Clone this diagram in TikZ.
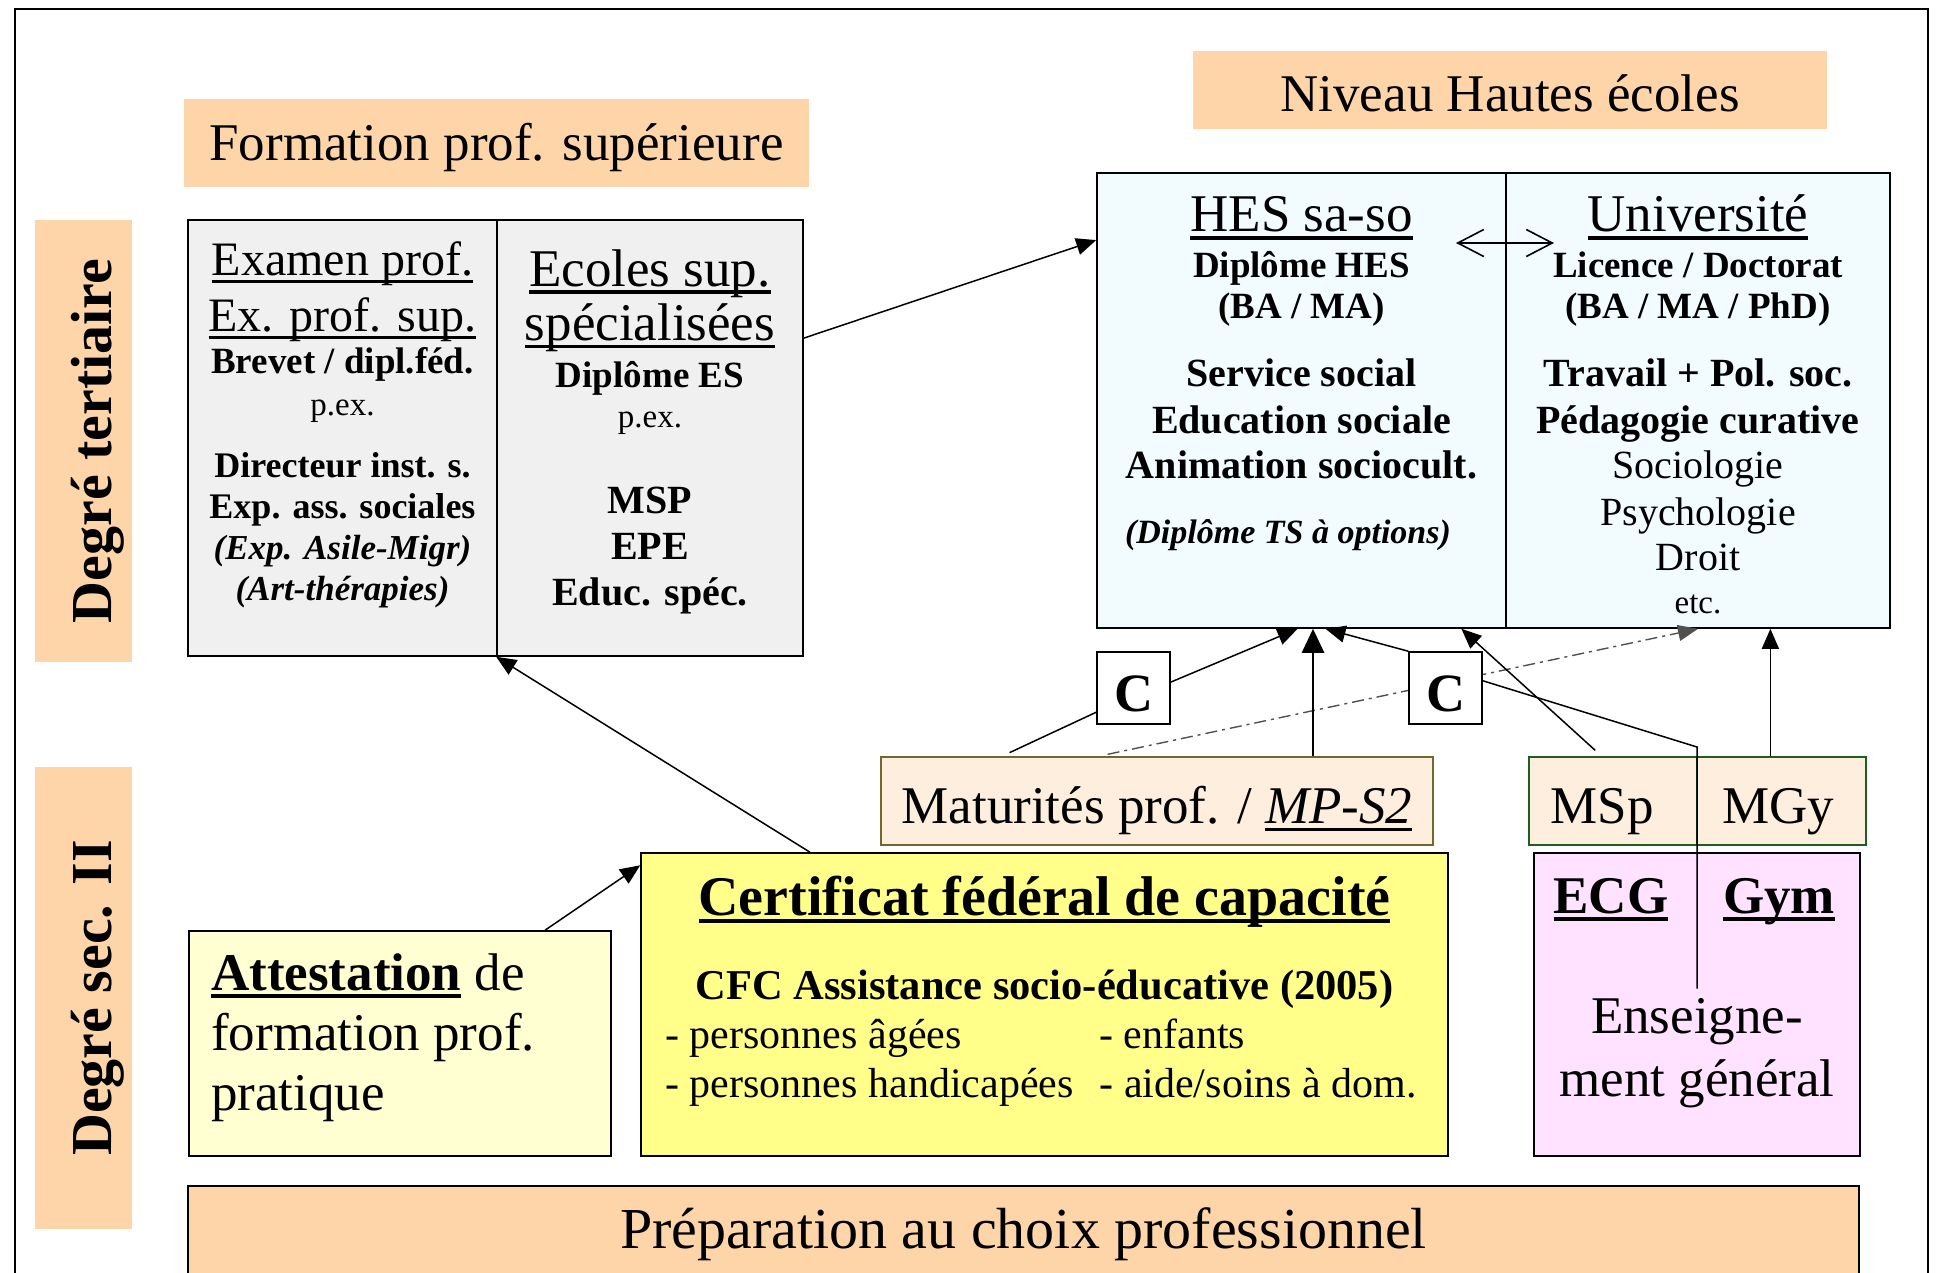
\documentclass[tikz,border=0pt]{standalone}
\usepackage{fontspec}
\setmainfont{Liberation Serif}
\usetikzlibrary{arrows.meta}

\definecolor{peach}{RGB}{254,213,168}
\definecolor{greybox}{RGB}{240,240,240}
\definecolor{hesblue}{RGB}{242,252,255}
\definecolor{cfcyellow}{RGB}{255,255,138}
\definecolor{attyellow}{RGB}{255,255,210}
\definecolor{matfill}{RGB}{254,238,221}
\definecolor{matline}{RGB}{110,106,46}
\definecolor{mgline}{RGB}{30,94,30}
\definecolor{ecgpink}{RGB}{255,226,255}
\definecolor{dashgrey}{RGB}{80,80,80}

\newcommand\fs[1]{\fontsize{#1}{#1}\selectfont}
\newcommand\ul[1]{\setbox0\hbox{#1}\rlap{\rule[-.15em]{\wd0}{.07em}}\box0}
\newcommand\tightlines{\baselineskip=0pt\lineskiplimit=-5000pt\lineskip=0pt}

\tikzset{
  box/.style={draw, line width=1.6pt, inner sep=0pt},
  band/.style={fill=peach, inner sep=0pt, text height=46pt},
  lines/.style={align=center, inner sep=0pt, anchor=base, font=\tightlines},
  tip/.style={-{Triangle[length=20pt,width=17pt]}, line width=1.5pt},
}

\begin{document}
\begin{tikzpicture}[x=1pt,y=-1pt]
  \useasboundingbox (0,0) rectangle (1937,1272);
  \draw[line width=1.6pt] (15,1290) |- (1928,9) -- (1928,1290);

  % bands
  \node[band, minimum width=625pt, minimum height=88pt, text depth=11.2pt] (form) at (496.5,143) {\fs{53}Formation prof. supérieure};
  \node[band, minimum width=634pt, minimum height=78pt, text depth=4pt] (niv) at (1510,90) {\fs{53}Niveau Hautes écoles};
  \node[band, rotate=90, minimum width=442pt, minimum height=97pt, text height=60pt, text depth=5pt] (ter) at (83.5,441) {\fs{58}\bfseries Degré tertiaire};
  \node[band, rotate=90, minimum width=462pt, minimum height=97pt, text height=60pt, text depth=5pt] (sec) at (83.5,998) {\fs{58}\bfseries Degré sec. II};

  % tertiaire (texts placed by their last baseline)
  \node[box, fill=greybox, minimum width=309pt, minimum height=436pt] (exam) at (342.5,438) {};
  \node[box, fill=greybox, minimum width=306pt, minimum height=436pt] (ecoles) at (650,438) {};
  \node[lines] (examtext) at (342.5,600.6) {%
    {\fs{48}\ul{Examen prof.}}\\[55.9pt]%
    {\fs{48}\ul{Ex. prof. sup.}}\\[42.1pt]%
    {\fs{37}\bfseries Brevet / dipl.féd.}\\[41.6pt]%
    {\fs{33}p.ex.}\\[61.6pt]%
    {\fs{36}\bfseries Directeur inst. s.}\\[41pt]%
    {\fs{36}\bfseries Exp. ass. sociales}\\[41.4pt]%
    {\fs{35}\bfseries\itshape (Exp. Asile-Migr)}\\[41.2pt]%
    {\fs{35}\bfseries\itshape (Art-thérapies)}};
  \node[lines] (ecolestext) at (650,605) {%
    {\fs{53}\ul{Ecoles sup.}}\\[54.4pt]%
    {\fs{53}\ul{spécialisées}}\\[46.6pt]%
    {\fs{37}\bfseries Diplôme ES}\\[40pt]%
    {\fs{33}p.ex.}\\[86pt]%
    {\fs{40}\bfseries MSP}\\[46.4pt]%
    {\fs{40}\bfseries EPE}\\[45.6pt]%
    {\fs{40}\bfseries Educ. spéc.}};

  \node[box, fill=hesblue, minimum width=409pt, minimum height=455pt] (hes) at (1301.5,400.5) {};
  \node[box, fill=hesblue, minimum width=384pt, minimum height=455pt] (univ) at (1698,400.5) {};
  \node[lines] (hestext) at (1301.5,543) {%
    {\fs{53}\ul{HES sa-so}}\\[46pt]%
    {\fs{37}\bfseries Diplôme HES}\\[40.3pt]%
    {\fs{37}\bfseries (BA / MA)}\\[68.7pt]%
    {\fs{40}\bfseries Service social}\\[46.6pt]%
    {\fs{40}\bfseries Education sociale}\\[45pt]%
    {\fs{40}\bfseries Animation sociocult.}\\[64.7pt]%
    {\fs{34}\bfseries\itshape (Diplôme TS à options)\hspace*{27pt}}};
  \node[lines] (univtext) at (1698,613.3) {%
    {\fs{53}\ul{Université}}\\[46pt]%
    {\fs{37}\bfseries Licence / Doctorat}\\[40.3pt]%
    {\fs{37}\bfseries (BA / MA / PhD)}\\[68.7pt]%
    {\fs{40}\bfseries Travail + Pol. soc.}\\[46.6pt]%
    {\fs{40}\bfseries Pédagogie curative}\\[45pt]%
    {\fs{40}Sociologie}\\[46.7pt]%
    {\fs{40}Psychologie}\\[45.7pt]%
    {\fs{40}Droit}\\[42.6pt]%
    {\fs{33}etc.}};
  \coordinate (hu-l) at (1456,243);
  \coordinate (hu-r) at (1554,243);
  \draw[{Straight Barb[length=26pt,width=27pt]}-{Straight Barb[length=26pt,width=27pt]}, line width=1.6pt] (hu-l) -- (hu-r);

  % sec. II
  \node[box, line width=1.2pt, draw=matline, fill=matfill, minimum width=552pt, minimum height=88pt, text height=46pt, text depth=1.4pt] (mat) at (1157,801) {\fs{53}Maturités prof. / \ul{\itshape MP-S2}};
  \node[box, line width=1.2pt, draw=mgline, fill=matfill, minimum width=168pt, minimum height=88pt, text height=46pt, text depth=1.4pt] (msp) at (1613,801) {\fs{53}MSp\hspace*{22pt}};
  \node[box, line width=1.2pt, draw=mgline, fill=matfill, minimum width=169pt, minimum height=88pt, text height=46pt, text depth=1.4pt] (mgy) at (1781.5,801) {\fs{53}MGy\hspace*{6pt}};

  \node[box, fill=cfcyellow, minimum width=807pt, minimum height=303pt] (cfc) at (1044.5,1004.5) {};
  \node[lines] (cfctext) at (1044.5,1097) {%
    {\fs{56}\bfseries\ul{Certificat fédéral de capacité}}\\[84pt]%
    {\fs{42.5}\bfseries CFC Assistance socio-éducative (2005)}\\[49.5pt]%
    {\fs{42}\makebox[434pt][l]{- personnes âgées}\makebox[324pt][l]{- enfants}}\\[48.5pt]%
    {\fs{42}\makebox[434pt][l]{- personnes handicapées}\makebox[324pt][l]{- aide/soins à dom.}}};

  \node[box, fill=attyellow, minimum width=422pt, minimum height=225pt] (att) at (400,1043.5) {};
  \node[lines, align=left, anchor=base west, font={\fs{53}\tightlines}] (atttext) at (211,1110) {%
    {\bfseries\ul{Attestation}} de\\[60pt]formation prof.\\[60pt]pratique};

  \node[box, fill=ecgpink, minimum width=326pt, minimum height=303pt] (gen) at (1697,1004.5) {};
  \node[lines] (ecg) at (1611,913) {\fs{53}\bfseries\ul{ECG}};
  \node[lines] (gym) at (1779,913) {\fs{53}\bfseries\ul{Gym}};
  \node[lines] (ens) at (1697,1096) {{\fs{53}Enseigne-}\\[63pt]{\fs{53}ment général}};

  \node[box, fill=peach, minimum width=1671pt, minimum height=104pt, text height=40pt, text depth=20pt] (prep) at (1023.5,1238) {\fs{58}Préparation au choix professionnel};

  % passerelle
  \draw[dashgrey, line width=1.4pt, dash pattern=on 12pt off 5pt on 3pt off 5pt, shorten <=10pt, -{Triangle[length=20pt,width=16pt]}] (mat.143.7) -- (univ.south);

  \node[box, fill=white, minimum width=73pt, minimum height=72pt, text height=47.4pt, text depth=0pt] (C1) at (1133.5,688) {\fs{54}\bfseries C};
  \node[box, fill=white, minimum width=73pt, minimum height=72pt, text height=47.4pt, text depth=0pt] (C2) at (1445.5,688) {\fs{54}\bfseries C};
  \coordinate (bend) at (1697,747);
  \coordinate (mp) at ([xshift=156pt]mat.north);

  \draw[tip] (ecoles.33) -- (hes.142.4);
  \draw[tip] (cfc.147) -- (ecoles.south west);
  \draw[tip] (att.38) -- (cfc.161.5);
  \draw[line width=1.5pt, shorten <=9pt] (mat.164) -- (C1.213);
  \draw[tip] (C1.9) -- (hes.-91);
  \draw[-{Triangle[length=24pt,width=22pt]}, line width=2.8pt] (mp) -- (mp |- hes.south);
  \draw[tip] (C2.north west) -- (hes.-84);
  \draw[line width=1.5pt, shorten <=9pt] (ens.north) -- (ens.north |- bend) -- (C2.11);
  \draw[tip, shorten <=9pt] (msp.104) -- (hes.-55.5);
  \draw[tip] (mgy.104) -- (mgy.104 |- univ.south);
\end{tikzpicture}
\end{document}
